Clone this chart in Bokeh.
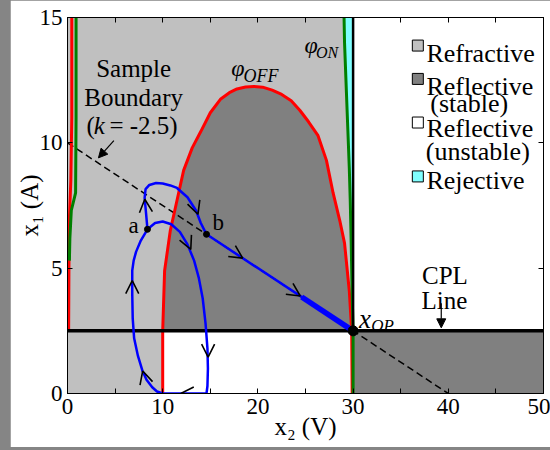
import math
from bokeh.plotting import figure
from bokeh.models import (ColumnDataSource, Label, Arrow, OpenHead, NormalHead,
                          LinearAxis, FixedTicker, Range1d)
from bokeh.embed import file_html
from bokeh.resources import INLINE

# ---------------- data ----------------
X_MIN, X_MAX = 0, 50
Y_MIN, Y_MAX = 0, 15
X_OP = 30.0          # operating point voltage
I_CPL = 2.5          # CPL current line
X_TICKS = [0, 5, 10, 15, 20, 25, 30, 35, 40, 45, 50]
X_TICK_LABELS = ["0", "", "10", "", "20", "", "30", "", "40", "", "50"]
Y_TICKS = [0, 5, 10, 15]
Y_TICK_LABELS = ["0", "5", "10", "15"]
X_TITLE = "x\u2082 (V)"
Y_TITLE = "x\u2081 (A)"

# phi_OFF (red) switching surface
phi_off_x = [10.0, 10.0, 10.2, 10.8, 11.5, 12.2, 13.1, 14.0, 15.0, 16.1, 17.0, 17.8, 18.7, 19.6,
             20.5, 21.5, 22.5, 23.5, 24.4, 25.3, 26.3, 27.2, 27.9, 28.6, 29.1, 29.6, 29.85, 29.9]
phi_off_y = [0.0, 2.5, 4.9, 6.5, 7.7, 8.9, 9.8, 10.45, 11.2, 11.75, 12.0, 12.15, 12.23, 12.25,
             12.22, 12.1, 11.93, 11.68, 11.3, 10.85, 10.3, 9.3, 8.0, 6.9, 6.0, 4.1, 2.5, 0.0]
phi_off_left_x = [0.45, 0.45, 0.35, 0.2, 0.15, 0.12]
phi_off_left_y = [15.0, 11.0, 8.5, 7.0, 5.0, 2.5]

# phi_ON (green) switching surface
phi_on_x = [29.05, 29.1, 29.2, 29.3, 29.45, 29.6, 29.7, 29.8, 29.9, 30.0, 30.0]
phi_on_y = [15.0, 14.0, 13.0, 12.0, 10.5, 9.0, 7.7, 6.0, 4.0, 2.5, 0.0]
phi_on_left_x = [0.9, 0.9, 0.85, 0.4, 0.25, 0.2]
phi_on_left_y = [15.0, 11.0, 8.0, 7.3, 6.2, 5.3]

# sample boundary (k = -2.5)
boundary_x = [0.0, 40.0]
boundary_y = [10.0, 0.0]

# trajectories
inner_x = [14.6, 10.0, 9.4, 8.9, 8.3, 7.86, 7.4, 7.0, 6.85, 6.8, 6.8, 6.95, 7.2, 7.7, 8.4,
           9.2, 10.0, 10.9, 11.8, 12.6, 13.3, 13.8, 14.2, 14.5, 14.7, 14.75, 14.7, 14.6]
inner_y = [0.0, 0.0, 0.08, 0.25, 0.55, 0.92, 1.5, 2.2, 3.0, 4.0, 4.9, 5.3, 5.65, 6.1, 6.55,
           6.8, 6.86, 6.75, 6.45, 5.95, 5.3, 4.6, 3.8, 2.8, 1.8, 1.0, 0.3, 0.0]
outer_x = [8.4, 8.25, 8.1, 8.2, 8.6, 9.3, 10.0, 10.8, 11.5, 12.6, 13.5, 14.0, 14.6]
outer_y = [6.55, 7.2, 7.8, 8.15, 8.32, 8.4, 8.38, 8.3, 8.2, 7.83, 7.3, 6.8, 6.35]
approach_x = [14.6, 30.0]
approach_y = [6.35, 2.5]
thick_x = [24.6, 30.0]
thick_y = [3.85, 2.5]

# marked points a, b, x_OP
pts_x = [8.4, 14.6, 30.0]
pts_y = [6.55, 6.35, 2.5]
pts_size = [6, 6, 10]

# direction arrowheads: tip (x, y) and direction (dx, dy)
arr_x = [11.9, 7.9, 6.8, 8.12, 12.95, 14.77, 13.7, 18.4, 24.45]
arr_y = [0.0, 0.9, 4.5, 7.75, 5.75, 1.45, 7.15, 5.4, 3.89]
arr_dx = [-1.0, -0.45, 0.0, -0.15, 0.7, 0.0, 0.5, 1.0, 1.0]
arr_dy = [0.0, 0.6, 1.0, 0.65, -0.6, -1.0, -0.55, -0.25, -0.25]

# legend
legend_colors = ["#c0c0c0", "#808080", "#ffffff", "#80ffff"]
legend_sq_x = [36.8, 36.8, 36.8, 36.8]
legend_sq_y = [13.88, 12.55, 10.81, 8.66]

LIGHT = "#c0c0c0"
DARK = "#808080"
CYAN = "#80ffff"
FONT = "Liberation Serif"

# ---------------- figure ----------------
p = figure(width=540, height=447, output_backend="svg", toolbar_location=None,
           x_range=Range1d(X_MIN, X_MAX), y_range=Range1d(Y_MIN, Y_MAX),
           min_border_left=57, min_border_right=7, min_border_top=17, min_border_bottom=54,
           background_fill_color="white", border_fill_color="white")
p.outline_line_color = "black"
p.outline_line_width = 1
p.xgrid.visible = False
p.ygrid.visible = False

def style_axis(ax, ticks, labels, show_labels=True):
    ax.ticker = FixedTicker(ticks=ticks)
    ax.major_label_overrides = {t: l for t, l in zip(ticks, labels)}
    ax.major_tick_in = 5
    ax.major_tick_out = 0
    ax.minor_tick_in = 0
    ax.minor_tick_out = 0
    ax.axis_line_color = "black"
    ax.major_tick_line_color = "black"
    ax.major_label_text_font = FONT
    ax.major_label_text_color = "black"
    ax.axis_label_text_font = FONT
    ax.axis_label_text_font_style = "normal"
    ax.axis_label_text_color = "black"
    ax.axis_label_text_font_size = "25px"
    if show_labels:
        ax.major_label_text_font_size = "23px"
        ax.major_label_standoff = 5
    else:
        ax.major_label_text_font_size = "0px"
        ax.major_label_standoff = 0

style_axis(p.xaxis[0], X_TICKS, X_TICK_LABELS)
style_axis(p.yaxis[0], Y_TICKS, Y_TICK_LABELS)
p.xaxis[0].axis_label = X_TITLE
p.xaxis[0].axis_label_standoff = -4
p.yaxis[0].axis_label = Y_TITLE
p.yaxis[0].axis_label_standoff = -6
top_ax = LinearAxis()
right_ax = LinearAxis()
style_axis(top_ax, X_TICKS, [""] * len(X_TICKS), False)
style_axis(right_ax, Y_TICKS, [""] * len(Y_TICKS), False)
p.add_layout(top_ax, "above")
p.add_layout(right_ax, "right")

# ---------------- regions ----------------
p.quad(left=X_MIN, right=X_OP, bottom=Y_MIN, top=Y_MAX, fill_color=LIGHT, line_color=None)
p.quad(left=X_OP, right=X_MAX, bottom=Y_MIN, top=I_CPL, fill_color=DARK, line_color=None)

dark_x = [x for x, y in zip(phi_off_x, phi_off_y) if y >= I_CPL]
dark_y = [y for y in phi_off_y if y >= I_CPL]
p.patch(dark_x, dark_y, fill_color=DARK, line_color=None)
white_x = [x for x, y in zip(phi_off_x, phi_off_y) if y <= I_CPL]
white_y = [y for y in phi_off_y if y <= I_CPL]
p.patch(white_x, white_y, fill_color="white", line_color=None)

p.harea(x1=phi_on_x, x2=[X_OP] * len(phi_on_x), y=phi_on_y, fill_color=CYAN)

# sample boundary
p.line(boundary_x, boundary_y, line_color="black", line_width=1.5, line_dash="7 4")

# switching surfaces
p.line(phi_off_x, phi_off_y, line_color="red", line_width=3)
p.line(phi_off_left_x, phi_off_left_y, line_color="red", line_width=3)
p.line(phi_on_x, phi_on_y, line_color="#008000", line_width=3)
p.line(phi_on_left_x, phi_on_left_y, line_color="#008000", line_width=3)

# x = X_OP boundary and CPL line
p.line([X_OP, X_OP], [I_CPL, Y_MAX], line_color="black", line_width=2.5)
p.line([X_MIN, X_MAX], [I_CPL, I_CPL], line_color="black", line_width=3.5)

# trajectories
p.line(inner_x, inner_y, line_color="blue", line_width=2.5)
p.line(outer_x, outer_y, line_color="blue", line_width=2.5)
p.line(approach_x, approach_y, line_color="blue", line_width=2.5)
p.line(thick_x, thick_y, line_color="blue", line_width=5.5)

# direction arrowheads
eps = 0.05
src = ColumnDataSource(dict(
    x0=[x - eps * dx for x, dx in zip(arr_x, arr_dx)],
    y0=[y - eps * dy for y, dy in zip(arr_y, arr_dy)],
    x1=arr_x, y1=arr_y))
p.add_layout(Arrow(x_start="x0", y_start="y0", x_end="x1", y_end="y1", source=src,
                   line_alpha=0, end=OpenHead(size=13, line_width=1.6, line_color="black")))

# points
p.scatter(pts_x, pts_y, size=pts_size, color="black")

# pointer arrows
p.add_layout(Arrow(x_start=4.87, y_start=10.09, x_end=3.25, y_end=9.4, line_width=1.2,
                   end=NormalHead(size=9, fill_color="black", line_color="black")))
p.add_layout(Arrow(x_start=39.26, y_start=3.6, x_end=39.26, y_end=2.62, line_width=1.2,
                   end=NormalHead(size=9, fill_color="black", line_color="black")))

# legend squares
p.scatter(legend_sq_x, legend_sq_y, marker="square", size=11,
          fill_color=legend_colors, line_color="black", line_width=1)

def lab(x, y, text, size, style="normal", align="center", baseline="middle"):
    p.add_layout(Label(x=x, y=y, text=text, text_font=FONT, text_font_size=f"{size}px",
                       text_font_style=style, text_align=align, text_baseline=baseline,
                       text_color="black"))

# legend text
lab(37.7, 13.56, "Refractive", 26, align="left", baseline="alphabetic")
lab(37.7, 12.25, "Reflective", 26, align="left", baseline="alphabetic")
lab(42.2, 11.57, "(stable)", 26, baseline="alphabetic")
lab(37.7, 10.57, "Reflective", 26, align="left", baseline="alphabetic")
lab(43.1, 9.65, "(unstable)", 26, baseline="alphabetic")
lab(37.7, 8.5, "Rejective", 26, align="left", baseline="alphabetic")

# annotations
lab(6.95, 12.96, "Sample", 25)
lab(6.95, 11.8, "Boundary", 25)
lab(2.0, 10.69, "(", 25, align="left")
lab(2.75, 10.69, "k", 25, style="italic", align="left")
lab(4.4, 10.69, "= -2.5)", 25, align="left")

lab(25.6, 13.92, "φ", 24, style="italic")
lab(26.1, 13.6, "ON", 16, style="italic", align="left")
lab(17.9, 13.0, "φ", 24, style="italic")
lab(18.5, 12.68, "OFF", 18, style="italic", align="left")

lab(6.95, 6.7, "a", 23)
lab(15.84, 6.82, "b", 23)
lab(30.63, 2.99, "x", 27, style="italic", align="left", baseline="alphabetic")
lab(31.9, 2.71, "OP", 17, style="italic", align="left", baseline="alphabetic")
lab(39.65, 4.71, "CPL", 25, baseline="alphabetic")
lab(39.6, 3.71, "Line", 25, baseline="alphabetic")

html = file_html(p, INLINE)
html = html.replace(
    "</head>",
    "<style>html,body{background:#858585 !important;}"
    "body{margin:0 !important;padding:0 0 0 10px !important;}</style></head>", 1)
open("out.html", "w").write(html)
